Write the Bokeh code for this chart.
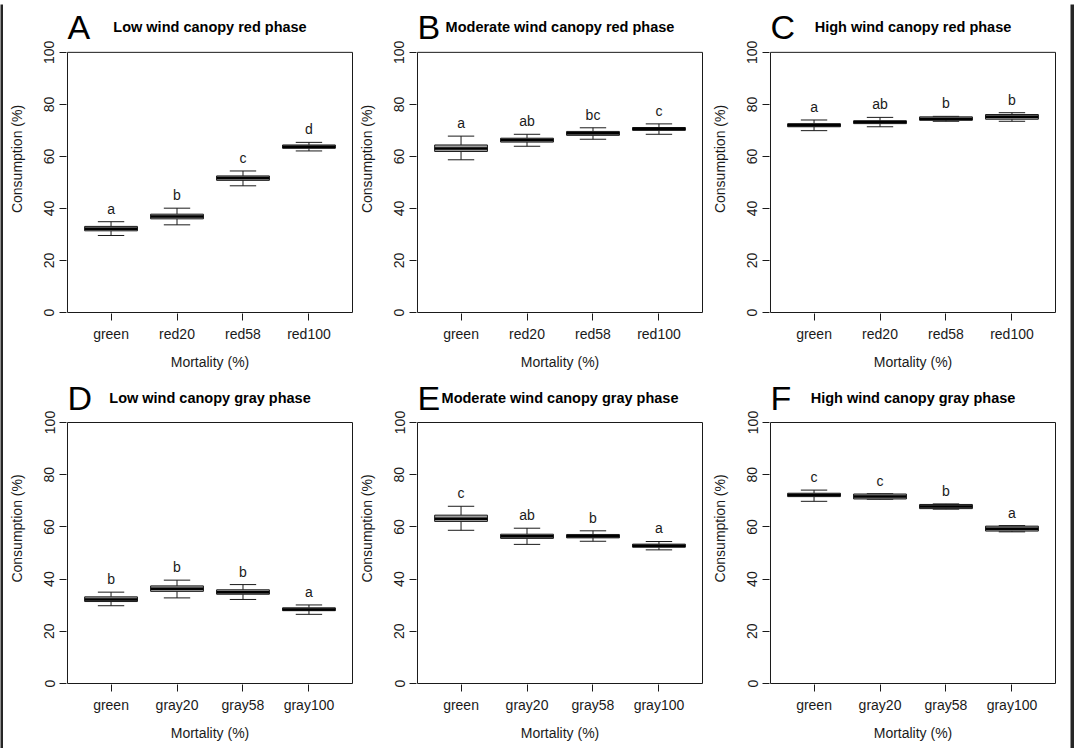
from bokeh.plotting import figure
from bokeh.layouts import gridplot, row, column
from bokeh.models import Range1d, FixedTicker, ColumnDataSource
from bokeh.embed import file_html
from bokeh.resources import INLINE
from bokeh.core.properties import value

# ---------------- data ----------------
red_cats = ["green", "red20", "red58", "red100"]
gray_cats = ["green", "gray20", "gray58", "gray100"]

# A  Low wind canopy red phase
a_lo = [29.6, 33.7, 48.7, 62.1]
a_q1 = [31.4, 36.0, 50.8, 63.1]
a_med = [32.2, 36.9, 51.7, 63.7]
a_q3 = [33.1, 37.8, 52.5, 64.4]
a_hi = [34.9, 40.1, 54.4, 65.4]
a_sig = ["a", "b", "c", "d"]

# B  Moderate wind canopy red phase
b_lo = [58.7, 63.9, 66.6, 68.5]
b_q1 = [61.9, 65.5, 68.1, 70.0]
b_med = [63.0, 66.3, 68.9, 70.6]
b_q3 = [64.4, 67.0, 69.6, 71.1]
b_hi = [67.8, 68.5, 71.0, 72.5]
b_sig = ["a", "ab", "bc", "c"]

# C  High wind canopy red phase
c_lo = [69.9, 71.4, 73.5, 73.5]
c_q1 = [71.4, 72.6, 73.9, 74.3]
c_med = [72.0, 73.2, 74.4, 75.2]
c_q3 = [72.6, 73.7, 75.2, 76.1]
c_hi = [74.0, 75.0, 75.4, 76.8]
c_sig = ["a", "ab", "b", "b"]

# D  Low wind canopy gray phase
d_lo = [29.8, 32.8, 32.2, 26.5]
d_q1 = [31.4, 35.3, 34.2, 27.9]
d_med = [32.2, 36.3, 35.0, 28.4]
d_q3 = [33.2, 37.4, 35.9, 29.0]
d_hi = [35.0, 39.6, 37.9, 30.1]
d_sig = ["b", "b", "b", "a"]

# E  Moderate wind canopy gray phase
e_lo = [58.7, 53.3, 54.5, 51.2]
e_q1 = [62.1, 55.6, 55.8, 52.2]
e_med = [63.1, 56.4, 56.4, 52.8]
e_q3 = [64.5, 57.2, 57.1, 53.4]
e_hi = [67.9, 59.5, 58.5, 54.4]
e_sig = ["c", "ab", "b", "a"]

# F  High wind canopy gray phase
f_lo = [69.8, 70.6, 66.8, 58.1]
f_q1 = [71.6, 70.7, 67.0, 58.4]
f_med = [72.2, 71.6, 67.8, 59.3]
f_q3 = [72.9, 72.6, 68.6, 60.3]
f_hi = [74.1, 72.7, 68.8, 60.5]
f_sig = ["c", "c", "b", "a"]

y_ticks = [0, 20, 40, 60, 80, 100]

FONT = "Liberation Sans"
INK = "#1a1a1a"
DARK = "#262626"
KX = 66.0     # px per x unit
KY = 2.61     # px per y unit
X0, X1 = 0.34, 4.66


def make_panel(letter, title, cats, lo, q1, med, q3, hi, sig, bl, br, head, bb):
    frame_w = 287
    frame_h = head + 261 + 1
    p = figure(width=bl + frame_w + br, height=frame_h + bb,
               x_range=Range1d(X0 - 1 / KX, X1 + 1 / KX),
               y_range=Range1d(-1 / KY, 100 + head / KY),
               output_backend="svg", toolbar_location=None, title=None,
               min_border_left=bl, min_border_right=br,
               min_border_top=0, min_border_bottom=bb)
    p.background_fill_color = "white"
    p.border_fill_color = "white"
    p.outline_line_color = None
    p.grid.visible = False

    # plot box
    p.quad(left=[X0], right=[X1], bottom=[0], top=[100], fill_color=None,
           line_color=INK, line_width=1)

    xs = list(range(1, len(cats) + 1))
    src = ColumnDataSource(dict(x=xs, lo=lo, q1=q1, med=med, q3=q3, hi=hi, sig=sig,
                                ylab=[h + 5 for h in hi],
                                cl=[x - 0.2 for x in xs], cr=[x + 0.2 for x in xs],
                                bl=[x - 0.4 for x in xs], brr=[x + 0.4 for x in xs]))
    # whiskers
    p.segment(x0="x", y0="hi", x1="x", y1="q3", source=src, line_color=INK, line_width=1)
    p.segment(x0="x", y0="lo", x1="x", y1="q1", source=src, line_color=INK, line_width=1)
    p.segment(x0="cl", y0="hi", x1="cr", y1="hi", source=src, line_color=INK, line_width=1)
    p.segment(x0="cl", y0="lo", x1="cr", y1="lo", source=src, line_color=INK, line_width=1)
    # boxes
    p.vbar(x="x", width=0.8, bottom="q1", top="q3", source=src,
           fill_color="#a0a0a0", line_color=INK, line_width=1)
    p.segment(x0="bl", y0="med", x1="brr", y1="med", source=src, line_color="black",
              line_width=2.5)
    # significance letters
    p.text(x="x", y="ylab", text="sig", source=src, text_align="center",
           text_baseline="middle", text_font=value(FONT), text_font_size="14px",
           text_color=INK)

    # panel letter and title
    p.text(x=[X0], y=[100 + 25 / KY], text=[letter], text_align="left",
           text_baseline="middle", text_font=value(FONT), text_font_size="34px",
           text_color="black")
    p.text(x=[2.5], y=[100 + 25 / KY], text=[title], text_align="center",
           text_baseline="middle", text_font=value(FONT), text_font_size="14.5px",
           text_font_style="bold", text_color="black")

    # axes
    p.xaxis.ticker = FixedTicker(ticks=xs)
    p.xaxis.major_label_overrides = {x: c for x, c in zip(xs, cats)}
    p.yaxis.ticker = FixedTicker(ticks=y_ticks)
    p.yaxis.major_label_orientation = "vertical"
    for ax in (p.xaxis[0], p.yaxis[0]):
        ax.axis_line_color = None
        ax.major_tick_out = 7
        ax.major_tick_in = 0
        ax.minor_tick_line_color = None
        ax.major_tick_line_color = INK
        ax.major_label_text_font = FONT
        ax.major_label_text_font_size = "14px"
        ax.major_label_text_color = INK
        ax.axis_label_text_font = FONT
        ax.axis_label_text_font_size = "14px"
        ax.axis_label_text_font_style = "normal"
        ax.axis_label_text_color = INK
    p.xaxis.axis_label = "Mortality (%)"
    p.yaxis.axis_label = "Consumption (%)"
    p.xaxis.major_label_standoff = 5
    p.xaxis.axis_label_standoff = 9
    p.yaxis.major_label_standoff = 5
    p.yaxis.axis_label_standoff = 17
    return p


def strip(w, h):
    s = figure(width=w, height=h, output_backend="svg", toolbar_location=None,
               title=None, x_axis_location=None, y_axis_location=None,
               min_border=0)
    s.outline_line_color = None
    s.background_fill_color = DARK
    s.border_fill_color = DARK
    s.grid.visible = False
    return s


cols = [(63, 0), (63, 2), (64, 14)]
rows = [(48, 58), (50, 64)]

pa = make_panel("A", "Low wind canopy red phase", red_cats, a_lo, a_q1, a_med, a_q3, a_hi, a_sig, *cols[0], *rows[0])
pb = make_panel("B", "Moderate wind canopy red phase", red_cats, b_lo, b_q1, b_med, b_q3, b_hi, b_sig, *cols[1], *rows[0])
pc = make_panel("C", "High wind canopy red phase", red_cats, c_lo, c_q1, c_med, c_q3, c_hi, c_sig, *cols[2], *rows[0])
pd = make_panel("D", "Low wind canopy gray phase", gray_cats, d_lo, d_q1, d_med, d_q3, d_hi, d_sig, *cols[0], *rows[1])
pe = make_panel("E", "Moderate wind canopy gray phase", gray_cats, e_lo, e_q1, e_med, e_q3, e_hi, e_sig, *cols[1], *rows[1])
pf = make_panel("F", "High wind canopy gray phase", gray_cats, f_lo, f_q1, f_med, f_q3, f_hi, f_sig, *cols[2], *rows[1])

grid = gridplot([[pa, pb, pc], [pd, pe, pf]], toolbar_location=None)

layout = column(strip(1074, 4),
                row(strip(3, 744), grid, strip(4, 744)),
                strip(1074, 3))

open("out.html", "w").write(file_html(layout, INLINE))
